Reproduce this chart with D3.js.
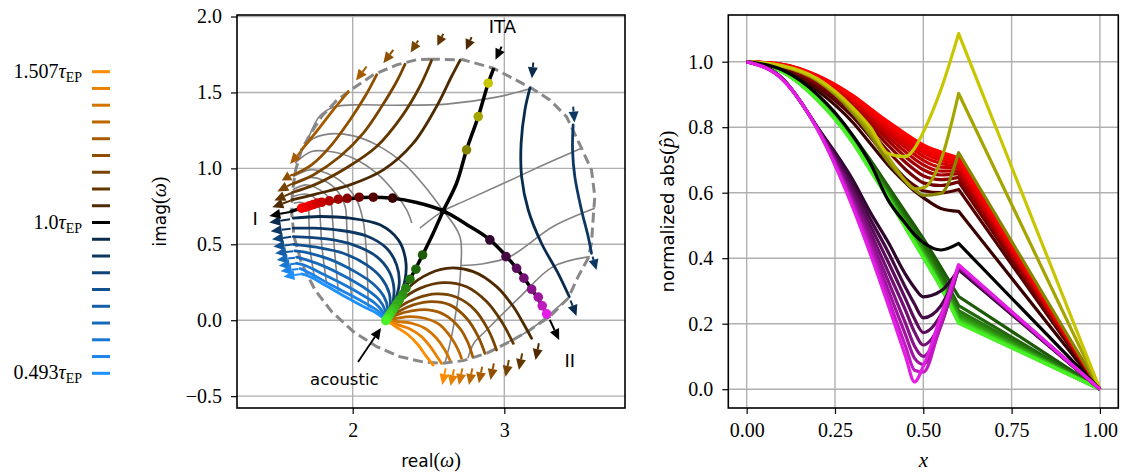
<!DOCTYPE html>
<html><head><meta charset="utf-8">
<script src="https://cdn.jsdelivr.net/npm/d3@7"></script>
<style>
body{margin:0;background:#fff;}
svg{display:block;}
</style></head><body>
<svg id="fig" width="1127" height="476"></svg>
<script>
// ---------------- colour steps (EP outwards) ----------------
const shade = [0.3, 0.3875, 0.475, 0.5625, 0.65, 0.7375, 0.825, 0.9125, 1.0];
const orangeBase = [255, 140, 0];
const blueBase = [30, 144, 255];
const legendTicks = [[0, "1.507"], [9, "1.0"], [18, "0.493"]];

// ---------------- left panel: eigenvalue trajectories (real, imag) ----------------
const boundaryPts = [[2.509,1.719],[2.729,1.715],[2.927,1.660],[3.180,1.528],[3.300,1.451],[3.410,1.341],[3.509,1.133],[3.575,0.990],[3.597,0.814],[3.590,0.726],[3.575,0.507],[3.553,0.408],[3.487,0.287],[3.421,0.145],[3.300,0.024],[3.169,-0.064],[3.037,-0.141],[2.883,-0.218],[2.729,-0.266],[2.597,-0.284],[2.465,-0.275],[2.312,-0.240],[2.158,-0.174],[2.004,-0.075],[1.861,0.057],[1.751,0.200],[1.663,0.375],[1.613,0.551],[1.598,0.705],[1.602,0.847],[1.624,0.990],[1.663,1.122],[1.718,1.221],[1.795,1.341],[1.894,1.447],[2.004,1.528],[2.136,1.616],[2.290,1.682],[2.421,1.715]];

const meshLines = [
  [[1.714,1.214],[1.784,1.346],[1.872,1.403],[2.004,1.418],[2.29,1.416],[2.619,1.423],[2.949,1.469],[3.18,1.528]],
  [[1.657,1.111],[1.74,1.196],[1.85,1.227],[2.004,1.214],[2.158,1.155],[2.334,1.034],[2.476,0.88],[2.597,0.72]],
  [[1.619,1.034],[1.729,1.111],[1.85,1.111],[2.004,1.067],[2.158,0.968],[2.29,0.825],[2.356,0.726],[2.39,0.64]],
  [[1.608,0.946],[1.718,0.99],[1.828,0.968],[1.938,0.902],[2.026,0.792],[2.07,0.65],[2.09,0.45],[2.103,0.079]],
  [[1.606,0.90],[1.71,0.94],[1.81,0.92],[1.9,0.85],[1.95,0.75],[1.962,0.6],[1.972,0.45],[1.993,0.138]],
  [[1.604,0.858],[1.696,0.891],[1.784,0.858],[1.85,0.792],[1.868,0.65],[1.877,0.5],[1.905,0.193]],
  [[1.606,0.815],[1.70,0.83],[1.77,0.78],[1.787,0.65],[1.795,0.507],[1.828,0.239]],
  [[1.612,0.77],[1.665,0.775],[1.705,0.74],[1.712,0.64],[1.72,0.463],[1.751,0.265]],
  [[2.443,0.606],[2.597,0.72],[2.729,0.781],[2.949,0.88],[3.235,1.012],[3.509,1.133]],
  [[2.597,0.72],[2.707,0.551],[2.712,0.331],[2.69,0.112],[2.652,-0.108],[2.608,-0.284]],
  [[2.712,0.36],[2.85,0.37],[3.037,0.419],[3.322,0.617],[3.597,0.737]],
  [[2.76,-0.25],[2.80,-0.15],[2.883,-0.064],[3.1,0.15],[3.322,0.353],[3.564,0.419]],
  [[2.98,-0.17],[3.05,-0.13],[3.169,-0.064],[3.421,0.145]]
];

// tau < tau_EP, branch from the acoustic mode towards I (index = shade step)
const blueLower = [
  [[2.22,0],[2.29,0.112],[2.345,0.265],[2.349,0.397],[2.301,0.529],[2.18,0.628],[1.982,0.672],[1.784,0.683],[1.608,0.672]],
  [[2.22,0],[2.274,0.112],[2.307,0.243],[2.29,0.364],[2.224,0.474],[2.092,0.555],[1.894,0.595],[1.74,0.606],[1.608,0.606]],
  [[2.22,0],[2.261,0.101],[2.272,0.21],[2.241,0.32],[2.158,0.419],[2.004,0.496],[1.828,0.535],[1.608,0.551]],
  [[2.22,0],[2.246,0.09],[2.241,0.178],[2.191,0.276],[2.092,0.364],[1.938,0.441],[1.762,0.481],[1.608,0.5]],
  [[2.22,0],[2.23,0.079],[2.206,0.156],[2.136,0.239],[2.015,0.32],[1.85,0.401],[1.718,0.441],[1.619,0.456]],
  [[2.22,0],[2.213,0.068],[2.175,0.134],[2.096,0.2],[1.971,0.276],[1.817,0.353],[1.696,0.397],[1.63,0.415]],
  [[2.22,0],[2.197,0.057],[2.147,0.112],[2.052,0.173],[1.916,0.248],[1.773,0.32],[1.679,0.364],[1.63,0.375]],
  [[2.22,0],[2.18,0.05],[2.114,0.094],[2.004,0.156],[1.861,0.23],[1.74,0.298],[1.652,0.34]],
  [[2.22,0],[2.158,0.046],[2.07,0.09],[1.949,0.156],[1.817,0.232],[1.718,0.287],[1.663,0.305]]
];
const blueLowerArrows = [
  [[1.587,0.665],[1.450,0.643]],[[1.591,0.603],[1.459,0.586]],[[1.595,0.549],[1.468,0.533]],
  [[1.600,0.498],[1.477,0.485]],[[1.608,0.454],[1.488,0.441]],[[1.619,0.412],[1.499,0.397]],
  [[1.626,0.373],[1.512,0.358]],[[1.641,0.338],[1.525,0.322]],[[1.657,0.303],[1.543,0.287]]
];
// tau < tau_EP, second branch on the right
const blueRight = [
  [[3.169,1.528],[3.136,1.385],[3.111,1.166],[3.114,0.946],[3.158,0.726],[3.245,0.507],[3.355,0.309],[3.428,0.156]],
  [[3.454,1.286],[3.45,1.122],[3.465,0.946],[3.509,0.726],[3.553,0.551],[3.575,0.441]]
];
const blueRightArrowsIn = [[[3.191,1.697],[3.182,1.594]], [[3.454,1.407],[3.463,1.302]]];
const blueRightArrowsOut = [[[3.437,0.13],[3.476,0.028]], [[3.582,0.419],[3.608,0.331]]];

// tau > tau_EP, branch from the acoustic mode downwards
const orangeLower = [
  [[2.22,0],[2.334,0.178],[2.465,0.287],[2.619,0.342],[2.795,0.32],[2.949,0.221],[3.059,0.09],[3.125,-0.02],[3.18,-0.119]],
  [[2.22,0],[2.323,0.134],[2.443,0.21],[2.597,0.248],[2.751,0.221],[2.883,0.123],[2.982,-0.009],[3.059,-0.152]],
  [[2.22,0],[2.312,0.09],[2.422,0.145],[2.553,0.173],[2.685,0.151],[2.806,0.068],[2.894,-0.064],[2.949,-0.196]],
  [[2.22,0],[2.301,0.057],[2.4,0.101],[2.52,0.123],[2.641,0.101],[2.751,0.013],[2.828,-0.108],[2.872,-0.218]],
  [[2.22,0],[2.29,0.035],[2.389,0.061],[2.498,0.068],[2.608,0.035],[2.707,-0.053],[2.762,-0.152],[2.791,-0.24]],
  [[2.22,0],[2.29,0.013],[2.378,0.024],[2.476,0.013],[2.575,-0.031],[2.652,-0.119],[2.696,-0.196],[2.718,-0.251]],
  [[2.22,0],[2.301,-0.009],[2.389,-0.02],[2.476,-0.053],[2.553,-0.119],[2.608,-0.196],[2.641,-0.262]],
  [[2.22,0],[2.301,-0.031],[2.378,-0.057],[2.454,-0.108],[2.52,-0.185],[2.564,-0.251],[2.586,-0.284]],
  [[2.22,0],[2.29,-0.046],[2.367,-0.097],[2.432,-0.163],[2.487,-0.24],[2.531,-0.295]]
];
const orangeLowerArrows = [
  [[3.228,-0.152],[3.206,-0.262]],[[3.118,-0.218],[3.096,-0.328]],[[3.030,-0.262],[3.008,-0.372]],
  [[2.931,-0.284],[2.909,-0.393]],[[2.854,-0.306],[2.832,-0.415]],[[2.789,-0.317],[2.767,-0.426]],
  [[2.723,-0.317],[2.701,-0.426]],[[2.668,-0.323],[2.646,-0.433]],[[2.613,-0.317],[2.591,-0.426]]
];
// tau > tau_EP, second branch in the upper left
const brownUpper = [
  [[1.598,0.792],[1.762,0.832],[1.982,0.891],[2.202,0.99],[2.4,1.166],[2.553,1.407],[2.652,1.605],[2.707,1.71]],
  [[1.6,0.841],[1.762,0.898],[1.96,1.004],[2.158,1.144],[2.323,1.341],[2.443,1.539],[2.52,1.71]],
  [[1.604,0.898],[1.74,0.957],[1.916,1.078],[2.07,1.232],[2.191,1.407],[2.29,1.572],[2.345,1.686]],
  [[1.608,0.957],[1.729,1.023],[1.861,1.155],[1.982,1.319],[2.081,1.473],[2.158,1.616]],
  [[1.663,1.122],[1.762,1.243],[1.872,1.385],[1.971,1.506]]
];
const brownUpperArrowsIn = [
  [[2.784,1.864],[2.747,1.78]],[[2.597,1.886],[2.558,1.807]],[[2.432,1.842],[2.382,1.763]],
  [[2.268,1.78],[2.202,1.693]],[[2.092,1.671],[2.022,1.578]]
];
const brownUpperArrowsOut = [
  [[1.591,0.788],[1.47,0.744]],[[1.593,0.836],[1.483,0.788]],[[1.598,0.898],[1.503,0.847]],
  [[1.604,0.961],[1.532,0.92]],[[1.657,1.111],[1.587,1.029]]
];

// tau = tau_EP
const branchI_II = [[1.587,0.713],[1.696,0.748],[1.85,0.781],[2.07,0.808],[2.263,0.803],[2.422,0.775],[2.597,0.72],[2.773,0.617],[2.905,0.529],[3.081,0.342],[3.213,0.156],[3.296,0.013]];
const branchITA = [[2.22,0],[2.29,0.112],[2.378,0.27],[2.461,0.43],[2.531,0.573],[2.597,0.72],[2.685,0.902],[2.751,1.122],[2.828,1.341],[2.894,1.561],[2.931,1.66]];
const blackArrows = [
  [[1.587,0.713],[1.450,0.687]],
  [[3.3,0.002],[3.362,-0.13]],
  [[2.982,1.802],[2.942,1.715]]
];
const acousticArrow = [[2.035,-0.275],[2.187,-0.051]];

// sampled modes shown on the right
const dotsRed = [[1.663,0.738],[1.686,0.744],[1.714,0.753],[1.74,0.762],[1.767,0.771],[1.795,0.777],[1.846,0.786],[1.905,0.797],[1.964,0.803],[2.043,0.81],[2.136,0.81],[2.263,0.804]];
const dotsPurple = [[2.905,0.529],[3.011,0.419],[3.081,0.342],[3.129,0.277],[3.18,0.204],[3.224,0.152],[3.25,0.095],[3.279,0.042]];
const dotsYellow = [[2.894,1.561],[2.828,1.341],[2.751,1.122]];
const dotsGreen = [[2.461,0.43],[2.417,0.336],[2.378,0.27],[2.351,0.211],[2.329,0.167],[2.307,0.134],[2.29,0.108],[2.272,0.079],[2.257,0.057],[2.242,0.035],[2.228,0.013],[2.219,-0.002]];

const labelsLeft = [
  {text: "ITA", at: [2.987, 1.891]},
  {text: "I", at: [1.356, 0.628]},
  {text: "II", at: [3.432, -0.306]},
  {text: "acoustic", at: [1.945, -0.426]}
];

// ---------------- right panel: normalized |p| along x ----------------
const xGrid = [0, 0.1, 0.2, 0.3, 0.35, 0.4, 0.45, 0.475, 0.5, 0.55, 0.6];
const xOutlet = 1.0, pOutlet = 0.0;
const redModes = [
  [1,.992,.958,.897,.857,.817,.780,.762,.746,.724,.706],
  [1,.992,.957,.894,.853,.812,.774,.756,.739,.716,.701],
  [1,.991,.955,.891,.849,.806,.767,.748,.731,.708,.695],
  [1,.991,.953,.887,.844,.799,.758,.739,.722,.699,.689],
  [1,.990,.951,.883,.838,.791,.748,.729,.711,.689,.682],
  [1,.990,.948,.878,.831,.782,.737,.717,.699,.678,.675],
  [1,.989,.945,.872,.823,.772,.724,.703,.685,.666,.667],
  [1,.988,.941,.865,.814,.760,.709,.688,.670,.654,.658],
  [1,.987,.936,.857,.803,.745,.692,.670,.652,.640,.647],
  [1,.985,.930,.846,.789,.727,.671,.648,.630,.622,.633],
  [1,.983,.922,.832,.770,.703,.643,.622,.606,.600,.610],
  [1,.980,.912,.815,.750,.685,.630,.605,.585,.552,.543]
];
const yellowModes = [
  [1,.988,.948,.860,.800,.720,.710,.735,.785,.915,1.086],
  [1,.987,.945,.852,.787,.710,.635,.612,.615,.700,.903],
  [1,.986,.942,.845,.775,.695,.635,.610,.592,.598,.722]
];
const blackMode = [1,.975,.900,.775,.690,.578,.505,.472,.448,.425,.445];
const greenModes = [
  [1,.973,.893,.775,.700,.620,.540,.500,.460,.372,.283],
  [1,.972,.890,.770,.693,.611,.528,.487,.446,.356,.255],
  [1,.972,.889,.766,.688,.604,.519,.477,.435,.345,.240],
  [1,.971,.888,.764,.684,.599,.513,.470,.428,.337,.232],
  [1,.971,.887,.762,.681,.596,.509,.465,.422,.331,.226],
  [1,.971,.886,.760,.678,.593,.505,.461,.418,.326,.221],
  [1,.970,.886,.758,.676,.590,.502,.458,.414,.322,.217],
  [1,.970,.885,.757,.674,.588,.499,.455,.411,.319,.213],
  [1,.970,.885,.756,.672,.586,.497,.452,.408,.316,.210],
  [1,.970,.884,.755,.670,.584,.495,.450,.405,.313,.207],
  [1,.970,.884,.754,.669,.583,.493,.448,.403,.311,.204],
  [1,.970,.883,.753,.668,.582,.491,.446,.401,.309,.201]
];
const purpleModes = [
  [1,.950,.800,.640,.540,.450,.350,.310,.282,.300,.365],
  [1,.950,.800,.625,.520,.420,.310,.260,.218,.255,.368],
  [1,.949,.799,.610,.500,.390,.275,.215,.173,.228,.370],
  [1,.949,.798,.596,.480,.360,.240,.175,.135,.205,.372],
  [1,.948,.797,.584,.462,.332,.200,.132,.100,.195,.374],
  [1,.948,.796,.574,.445,.305,.165,.095,.076,.195,.376],
  [1,.947,.795,.565,.430,.280,.130,.058,.052,.205,.378],
  [1,.947,.794,.556,.413,.259,.099,.022,.070,.226,.380]
];

const leftXTicks = [2, 3];
const leftYTicks = [-0.5, 0, 0.5, 1, 1.5, 2];
const rightXTicks = [0, 0.25, 0.5, 0.75, 1];
const rightYTicks = [0, 0.2, 0.4, 0.6, 0.8, 1];

// ---------------- colour helpers ----------------
const scaled = (base, t) => d3.rgb(base[0]*t, base[1]*t, base[2]*t).formatHex();
const orangeColor = k => scaled(orangeBase, shade[k]);
const blueColor = k => scaled(blueBase, shade[k]);
const redShade = [1, .97, .93, .89, .84, .78, .71, .63, .54, .44, .33, .22];
const redColor = i => scaled([255, 0, 0], redShade[i]);
const purpleShade = [.2, .3, .4, .5, .6, .7, .85, 1];
const purpleColor = i => scaled([228, 30, 228], purpleShade[i]);
const yellowShade = [1, .83, .67];
const yellowColor = i => scaled([200, 198, 0], yellowShade[i]);
const greenColor = i => d3.interpolateRgb("#1d5a08", "#48f026")(i / 11);

const svg = d3.select("#fig");
const serif = "'Liberation Serif', 'DejaVu Serif', serif";
const sans = "'DejaVu Sans', sans-serif";

// ---------------- legend ----------------
const legendColors = [];
for (let i = 0; i < 9; i++) legendColors.push(orangeColor(8 - i));
legendColors.push("#000000");
for (let i = 0; i < 9; i++) legendColors.push(blueColor(i));
const legY = d3.scaleLinear().domain([0, 18]).range([71.7, 373.3]);
const leg = svg.append("g");
leg.selectAll("line").data(legendColors).join("line")
  .attr("x1", 92).attr("x2", 110)
  .attr("y1", (d, i) => legY(i)).attr("y2", (d, i) => legY(i))
  .attr("stroke", d => d).attr("stroke-width", 3);
legendTicks.forEach(([i, lab]) => {
  const t = leg.append("text").attr("x", 82).attr("y", legY(i) + 6)
    .attr("text-anchor", "end").attr("font-family", serif).attr("font-size", 20);
  t.append("tspan").text(lab);
  t.append("tspan").attr("font-style", "italic").text("τ");
  t.append("tspan").attr("font-size", 14).attr("dy", 4).text("EP");
});

// ---------------- generic axes ----------------
function axes(g, sx, sy, xt, yt, fx, fy) {
  const [x0, x1] = sx.range(), [y0, y1] = sy.range();
  g.append("g").selectAll("line").data(xt).join("line")
    .attr("x1", d => sx(d)).attr("x2", d => sx(d)).attr("y1", y0).attr("y2", y1)
    .attr("stroke", "#b0b0b0").attr("stroke-width", 1.4);
  g.append("g").selectAll("line").data(yt).join("line")
    .attr("y1", d => sy(d)).attr("y2", d => sy(d)).attr("x1", x0).attr("x2", x1)
    .attr("stroke", "#b0b0b0").attr("stroke-width", 1.4);
  const ax = g.append("g").attr("transform", `translate(0,${y0})`)
    .call(d3.axisBottom(sx).tickValues(xt).tickFormat(fx).tickSize(6).tickPadding(9));
  const ay = g.append("g").attr("transform", `translate(${x0},0)`)
    .call(d3.axisLeft(sy).tickValues(yt).tickFormat(fy).tickSize(6).tickPadding(9));
  [ax, ay].forEach(a => {
    a.select(".domain").remove();
    a.selectAll("line").attr("stroke", "#000").attr("stroke-width", 1.2);
    a.selectAll("text").attr("font-family", serif).attr("font-size", 20).attr("fill", "#000");
  });
}
function frame(g, sx, sy) {
  const [x0, x1] = sx.range(), [y0, y1] = sy.range();
  g.append("rect").attr("x", x0).attr("y", y1).attr("width", x1 - x0).attr("height", y0 - y1)
    .attr("fill", "none").attr("stroke", "#000").attr("stroke-width", 1.6);
}
function clip(id, sx, sy) {
  const [x0, x1] = sx.range(), [y0, y1] = sy.range();
  svg.append("clipPath").attr("id", id).append("rect")
    .attr("x", x0).attr("y", y1).attr("width", x1 - x0).attr("height", y0 - y1);
}
function arrow(g, tail, tip, color, sx, sy, lw) {
  const xa = sx(tail[0]), ya = sy(tail[1]), xb = sx(tip[0]), yb = sy(tip[1]);
  const dx = xb - xa, dy = yb - ya, L = Math.hypot(dx, dy), ux = dx / L, uy = dy / L;
  const hl = Math.min(11, L * 0.75), hw = 5;
  const bx = xb - ux * hl, by = yb - uy * hl;
  g.append("line").attr("x1", xa).attr("y1", ya).attr("x2", bx).attr("y2", by)
    .attr("stroke", color).attr("stroke-width", lw || 2);
  g.append("path").attr("d", `M${xb},${yb}L${bx - uy * hw},${by + ux * hw}L${bx + uy * hw},${by - ux * hw}Z`)
    .attr("fill", color);
}

// ---------------- left panel ----------------
const xL = d3.scaleLinear().domain([1.237, 3.796]).range([237, 625]);
const yL = d3.scaleLinear().domain([-0.578, 2.01]).range([408, 15]);
const L = svg.append("g");
const fmtSigned = d => (d < 0 ? "\u2212" : "") + Math.abs(d).toFixed(1);
axes(L, xL, yL, leftXTicks, leftYTicks, d => d3.format("d")(d), fmtSigned);
clip("clipL", xL, yL);
const LP = L.append("g").attr("clip-path", "url(#clipL)");
const smooth = d3.line().x(d => xL(d[0])).y(d => yL(d[1])).curve(d3.curveCatmullRom.alpha(0.5));

LP.append("g").selectAll("path").data(meshLines).join("path")
  .attr("d", smooth).attr("fill", "none").attr("stroke", "#838383").attr("stroke-width", 1.6);
LP.append("path").datum(boundaryPts)
  .attr("d", d3.line().x(d => xL(d[0])).y(d => yL(d[1])).curve(d3.curveLinearClosed))
  .attr("fill", "none").attr("stroke", "#888").attr("stroke-width", 3).attr("stroke-dasharray", "10,5");

function family(data, colorOf) {
  LP.append("g").selectAll("path").data(data).join("path")
    .attr("d", smooth).attr("fill", "none").attr("stroke", (d, i) => colorOf(i))
    .attr("stroke-width", 2.8).attr("stroke-linecap", "round");
}
family(blueLower, blueColor);
family(blueRight, blueColor);
family(orangeLower, orangeColor);
family(brownUpper, orangeColor);

const arrowsG = LP.append("g");
blueLowerArrows.forEach((a, i) => arrow(arrowsG, a[0], a[1], blueColor(i), xL, yL));
blueRightArrowsIn.forEach((a, i) => arrow(arrowsG, a[0], a[1], blueColor(i), xL, yL));
blueRightArrowsOut.forEach((a, i) => arrow(arrowsG, a[0], a[1], blueColor(i), xL, yL));
orangeLowerArrows.forEach((a, i) => arrow(arrowsG, a[0], a[1], orangeColor(i), xL, yL));
brownUpperArrowsIn.forEach((a, i) => arrow(arrowsG, a[0], a[1], orangeColor(i), xL, yL));
brownUpperArrowsOut.forEach((a, i) => arrow(arrowsG, a[0], a[1], orangeColor(i), xL, yL));

[branchI_II, branchITA].forEach(b => LP.append("path").datum(b).attr("d", smooth)
  .attr("fill", "none").attr("stroke", "#000").attr("stroke-width", 3.5));
blackArrows.forEach(a => arrow(arrowsG, a[0], a[1], "#000", xL, yL));
arrow(LP, acousticArrow[0], acousticArrow[1], "#000", xL, yL, 1.8);

function dots(data, colorOf) {
  LP.append("g").selectAll("circle").data(data).join("circle")
    .attr("cx", d => xL(d[0])).attr("cy", d => yL(d[1])).attr("r", 4.8)
    .attr("fill", (d, i) => colorOf(i));
}
dots(dotsGreen, greenColor);
dots(dotsYellow, yellowColor);
dots(dotsPurple, purpleColor);
dots(dotsRed, redColor);
LP.selectAll("circle.ep").data([[2.597, 0.72]]).join("circle")
  .attr("cx", d => xL(d[0])).attr("cy", d => yL(d[1])).attr("r", 3.2).attr("fill", "#000");

LP.append("g").selectAll("text").data(labelsLeft).join("text")
  .attr("x", d => xL(d.at[0])).attr("y", d => yL(d.at[1]))
  .attr("text-anchor", "middle").attr("font-family", sans)
  .attr("font-size", d => d.text === "acoustic" ? 16.5 : 18).text(d => d.text);
frame(L, xL, yL);

// axis labels (left)
const xlabL = L.append("text").attr("x", 431).attr("y", 467).attr("text-anchor", "middle");
xlabL.append("tspan").attr("font-family", sans).attr("font-size", 17).text("real");
xlabL.append("tspan").attr("font-family", serif).attr("font-size", 20).text("(");
xlabL.append("tspan").attr("font-family", serif).attr("font-size", 20).attr("font-style", "italic").text("ω");
xlabL.append("tspan").attr("font-family", serif).attr("font-size", 20).text(")");
const ylabL = L.append("text").attr("transform", "translate(166,211.5) rotate(-90)").attr("text-anchor", "middle");
ylabL.append("tspan").attr("font-family", sans).attr("font-size", 17).text("imag");
ylabL.append("tspan").attr("font-family", serif).attr("font-size", 20).text("(");
ylabL.append("tspan").attr("font-family", serif).attr("font-size", 20).attr("font-style", "italic").text("ω");
ylabL.append("tspan").attr("font-family", serif).attr("font-size", 20).text(")");

// ---------------- right panel ----------------
const xR = d3.scaleLinear().domain([-0.052, 1.052]).range([728.3, 1118.3]);
const yR = d3.scaleLinear().domain([-0.0574, 1.1426]).range([408, 15]);
const R = svg.append("g");
axes(R, xR, yR, rightXTicks, rightYTicks, d3.format(".2f"), d3.format(".1f"));
clip("clipR", xR, yR);
const RP = R.append("g").attr("clip-path", "url(#clipR)");
const modeLine = d3.line().x(d => xR(d[0])).y(d => yR(d[1])).curve(d3.curveMonotoneX);
const modePath = vals => modeLine(xGrid.map((x, i) => [x, vals[i]])) + `L${xR(xOutlet)},${yR(pOutlet)}`;
function modes(data, colorOf, order) {
  const idx = order || data.map((d, i) => i);
  idx.forEach(i => RP.append("path").attr("d", modePath(data[i])).attr("fill", "none")
    .attr("stroke", colorOf(i)).attr("stroke-width", 3.2).attr("stroke-linejoin", "round"));
}
modes(greenModes, greenColor);
modes(redModes, redColor, d3.range(11, -1, -1));
modes(yellowModes, yellowColor, [2, 1, 0]);
modes([blackMode], () => "#000");
modes(purpleModes, purpleColor);
frame(R, xR, yR);

R.append("text").attr("x", 923.3).attr("y", 467).attr("text-anchor", "middle")
  .attr("font-family", serif).attr("font-size", 21).attr("font-style", "italic").text("x");
const ylabR = R.append("text").attr("transform", "translate(674,211.5) rotate(-90)").attr("text-anchor", "middle");
ylabR.append("tspan").attr("font-family", sans).attr("font-size", 18).text("normalized abs");
ylabR.append("tspan").attr("font-family", serif).attr("font-size", 21).text("(");
ylabR.append("tspan").attr("font-family", serif).attr("font-size", 21).attr("font-style", "italic").text("p\u0302");
ylabR.append("tspan").attr("font-family", serif).attr("font-size", 21).text(")");
</script></body></html>
